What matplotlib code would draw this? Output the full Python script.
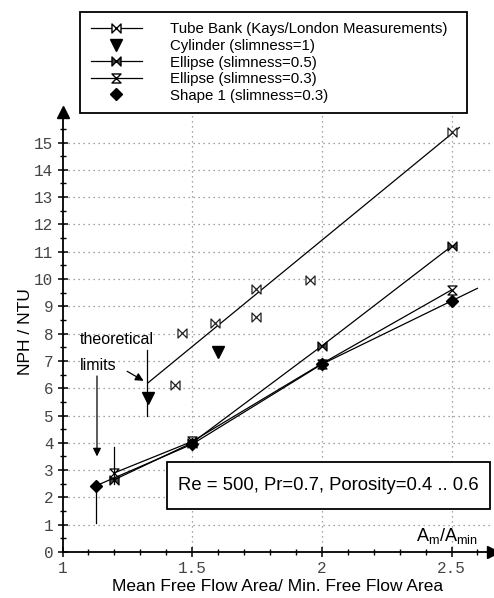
import matplotlib
matplotlib.use("Agg")
import matplotlib.pyplot as plt
from matplotlib.path import Path
from matplotlib.patches import Rectangle
from matplotlib.lines import Line2D

plt.rcParams['font.family'] = ['Liberation Sans', 'DejaVu Sans']

# ---- data ----
tube_x = [1.434, 1.46, 1.588, 1.746, 1.746, 1.954, 2.5]
tube_y = [6.12, 8.01, 8.38, 9.63, 8.60, 9.97, 15.4]
tube_fit_x = [1.33, 2.53]
tube_fit_y = [6.2, 15.55]

cyl_x = [1.33, 1.60]
cyl_y = [5.63, 7.32]

ell05_x = [1.2, 1.5, 2.0, 2.5]
ell05_y = [2.65, 4.0, 7.55, 11.2]

ell03_x = [1.2, 1.5, 2.0, 2.5]
ell03_y = [2.9, 4.05, 6.9, 9.6]

shape_x = [1.13, 1.5, 2.0, 2.5]
shape_y = [2.43, 3.95, 6.88, 9.2]
shape_line_x = [1.13, 1.5, 2.0, 2.6]
shape_line_y = [2.43, 3.95, 6.88, 9.66]

# theoretical limit ranges (x, y_low, y_high)
limit_x = [1.13, 1.2, 1.325]
limit_lo = [1.05, 2.5, 5.0]
limit_hi = [2.43, 3.86, 7.4]

xticks = [1, 1.5, 2, 2.5]
xticklabels = ['1', '1.5', '2', '2.5']
yticks = list(range(0, 16))

labels = ['Tube Bank (Kays/London Measurements)', 'Cylinder (slimness=1)',
          'Ellipse (slimness=0.5)', 'Ellipse (slimness=0.3)', 'Shape 1 (slimness=0.3)']

# ---- markers ----
bowtie = Path([(-1, -1), (-1, 1), (1, -1), (1, 1), (-1, -1)],
              [Path.MOVETO, Path.LINETO, Path.LINETO, Path.LINETO, Path.CLOSEPOLY])
hourglass = Path([(-1, 1), (1, 1), (-1, -1), (1, -1), (-1, 1)],
                 [Path.MOVETO, Path.LINETO, Path.LINETO, Path.LINETO, Path.CLOSEPOLY])

fig = plt.figure(figsize=(4.94, 5.98), dpi=100)
ax = fig.add_axes([62.5 / 494, 46 / 598, (493 - 62.5) / 494, (552 - 111.7) / 598])
ax.set_xlim(1, 2.66)
ax.set_ylim(0, 16.13)

# grid
for yv in yticks[1:]:
    ax.axhline(yv, color='#888888', lw=0.9, ls=(0, (1, 3)), zorder=0)
for xv in xticks[1:]:
    ax.axvline(xv, color='#888888', lw=0.9, ls=(0, (1, 3)), zorder=0)

lw = 0.9
ax.plot(tube_fit_x, tube_fit_y, color='black', lw=lw)
ax.plot(tube_x, tube_y, ls='none', marker=bowtie, ms=6.5, mfc='white', mec='#222222', mew=0.9)
ax.plot(cyl_x, cyl_y, ls='none', marker='v', ms=9, color='black')
ax.plot(ell05_x, ell05_y, color='black', lw=lw, marker=bowtie, ms=6.5, mfc='#444444', mec='black', mew=0.9)
ax.plot(ell03_x, ell03_y, color='black', lw=lw, marker=hourglass, ms=6.5, mfc='white', mec='black', mew=0.9)
ax.plot(shape_line_x, shape_line_y, color='black', lw=lw)
ax.plot(shape_x, shape_y, ls='none', marker='D', ms=6, color='black')

for xv, lo, hi in zip(limit_x, limit_lo, limit_hi):
    ax.plot([xv, xv], [lo, hi], color='black', lw=lw)

# annotations
ax.text(1.067, 7.77, 'theoretical', fontsize=11.5, va='center', ha='left')
ax.text(1.067, 6.85, 'limits', fontsize=11.5, va='center', ha='left')
ax.annotate('', xy=(1.133, 3.4), xytext=(1.133, 6.55),
            arrowprops=dict(arrowstyle='-|>', color='black', lw=0.9, mutation_scale=12))
ax.annotate('', xy=(1.322, 6.22), xytext=(1.24, 6.67),
            arrowprops=dict(arrowstyle='-|>', color='black', lw=0.9, mutation_scale=12))

# Condition box
ax.add_patch(Rectangle((1.403, 1.58), 2.648 - 1.403, 3.30 - 1.58, fill=True, fc='white',
                       ec='black', lw=1.3, zorder=5, clip_on=False))
ax.text((1.403 + 2.648) / 2, 2.44, 'Re = 500, Pr=0.7, Porosity=0.4 .. 0.6',
        fontsize=13.3, ha='center', va='center', zorder=6)

ax.text(2.365, 0.6, r'$\mathregular{A_m/A_{min}}$', fontsize=13, ha='left', va='center')

# axes styling
for s in ['top', 'right']:
    ax.spines[s].set_visible(False)
ax.spines['left'].set_linewidth(1.3)
ax.spines['bottom'].set_linewidth(1.3)
ax.set_xticks(xticks)
ax.set_xticklabels(xticklabels)
ax.set_yticks(yticks)
ax.set_xticks([1 + 0.1 * i for i in range(17)], minor=True)
ax.set_yticks([0.5 * i for i in range(33)], minor=True)
ax.tick_params(which='major', direction='inout', length=7, width=1.1, colors='black',
               labelcolor='#444444', labelsize=11.5, pad=3)
ax.tick_params(which='minor', direction='inout', length=4.5, width=1.0)
for lab in ax.get_xticklabels() + ax.get_yticklabels():
    lab.set_fontfamily('Liberation Mono')

ax.plot([0], [1.0], marker='^', ms=8, color='black', transform=ax.transAxes, clip_on=False)
ax.plot([1.0], [0], marker='>', ms=8, color='black', transform=ax.transAxes, clip_on=False)

ax.set_xlabel('Mean Free Flow Area/ Min. Free Flow Area', fontsize=12.5, labelpad=2)
ax.set_ylabel('NPH / NTU', fontsize=12.5, labelpad=1)

# legend
handles = [
    Line2D([], [], color='black', lw=lw, marker=bowtie, ms=6.5, mfc='white', mec='black'),
    Line2D([], [], ls='none', marker='v', ms=9, color='black'),
    Line2D([], [], color='black', lw=lw, marker=bowtie, ms=6.5, mfc='#444444', mec='black'),
    Line2D([], [], color='black', lw=lw, marker=hourglass, ms=6.5, mfc='white', mec='black'),
    Line2D([], [], ls='none', marker='D', ms=6, color='black'),
]
leg = fig.legend(handles, labels, loc='upper left',
                 bbox_to_anchor=(80 / 494, 1 - 117 / 598, 387 / 494, 105 / 598), mode='expand',
                 frameon=True, fancybox=False, framealpha=1, edgecolor='black',
                 fontsize=10.8, handlelength=3.4, handletextpad=1.9, borderpad=0.7,
                 labelspacing=0.17, borderaxespad=0)
leg.get_frame().set_linewidth(1.3)

fig.savefig('out.png', dpi=100)
